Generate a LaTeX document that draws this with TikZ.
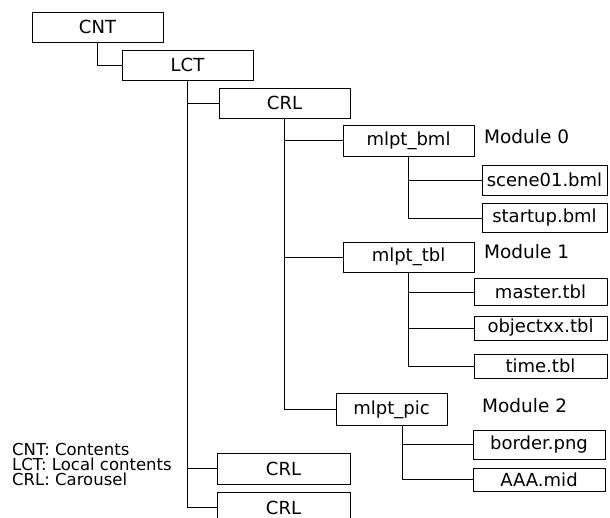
\documentclass[tikz,border=0pt]{standalone}
\usepackage{fontspec}
\setmainfont{DejaVu Sans}
\begin{document}
\begin{tikzpicture}[x=1pt,y=-1pt,
  box/.style={draw,line width=0.8pt,inner sep=0pt,font=\fontsize{18}{20}\selectfont},
  lbl/.style={anchor=west,inner sep=0pt,font=\fontsize{18.5}{20}\selectfont},
  wire/.style={line width=0.8pt}]
\useasboundingbox (0,0) rectangle (610,518);
\clip (0,0) rectangle (610,518);
\fill[white] (0,0) rectangle (610,518);
\node[box,minimum width=131,minimum height=30] (cnt) at (97.5,27) {CNT};
\node[box,minimum width=131,minimum height=30] (lct) at (187.5,65) {LCT};
\node[box,minimum width=131,minimum height=30] (crl1) at (284.5,103) {CRL};
\node[box,minimum width=131,minimum height=31] (bml) at (408.5,140.5) {mlpt\_bml};
\node[box,minimum width=125,minimum height=30] (scene) at (544.5,180) {scene01.bml};
\node[box,minimum width=125,minimum height=29] (startup) at (544.5,218) {startup.bml};
\node[box,minimum width=131,minimum height=30] (tbl) at (408.5,257) {mlpt\_tbl};
\node[box,minimum width=133,minimum height=27] (master) at (540.5,292) {master.tbl};
\node[box,minimum width=133,minimum height=24] (objx) at (540.5,328) {objectxx.tbl};
\node[box,minimum width=133,minimum height=24] (time) at (540.5,366) {time.tbl};
\node[box,minimum width=111,minimum height=32] (pic) at (391.5,409.5) {mlpt\_pic};
\node[box,minimum width=132,minimum height=29] (border) at (539,444.5) {border.png};
\node[box,minimum width=132,minimum height=23] (aaa) at (539,479.5) {AAA.mid};
\node[box,minimum width=133,minimum height=31] (crl2) at (283.5,468.5) {CRL};
\node[box,minimum width=133,minimum height=31] (crl3) at (283.5,507.5) {CRL};
\node[lbl] (m0) at (484,137) {Module 0};
\node[lbl] (m1) at (484,252) {Module 1};
\node[lbl] (m2) at (482,406) {Module 2};
\node[anchor=north west,inner sep=0pt,align=left,font=\fontsize{16.5}{15}\selectfont] (legend) at (12,443)
  {CNT: Contents\\LCT: Local contents\\CRL: Carousel};
\draw[wire] (cnt.south) |- (lct.west);
\draw[wire] (lct.south) |- (crl1.west);
\draw[wire] (lct.south) |- (crl2.west);
\draw[wire] (lct.south) |- (crl3.west);
\draw[wire] (crl1.south) |- (bml.west);
\draw[wire] (crl1.south) |- (tbl.west);
\draw[wire] (crl1.south) |- (pic.west);
\draw[wire] (bml.south) |- (scene.west);
\draw[wire] (bml.south) |- (startup.west);
\draw[wire] (tbl.south) |- (master.west);
\draw[wire] (tbl.south) |- (objx.west);
\draw[wire] (tbl.south) |- (time.west);
\coordinate (picdrop) at ([xshift=10.5pt]pic.south);
\draw[wire] (picdrop) |- (border.west);
\draw[wire] (picdrop) |- (aaa.west);
\end{tikzpicture}
\end{document}
